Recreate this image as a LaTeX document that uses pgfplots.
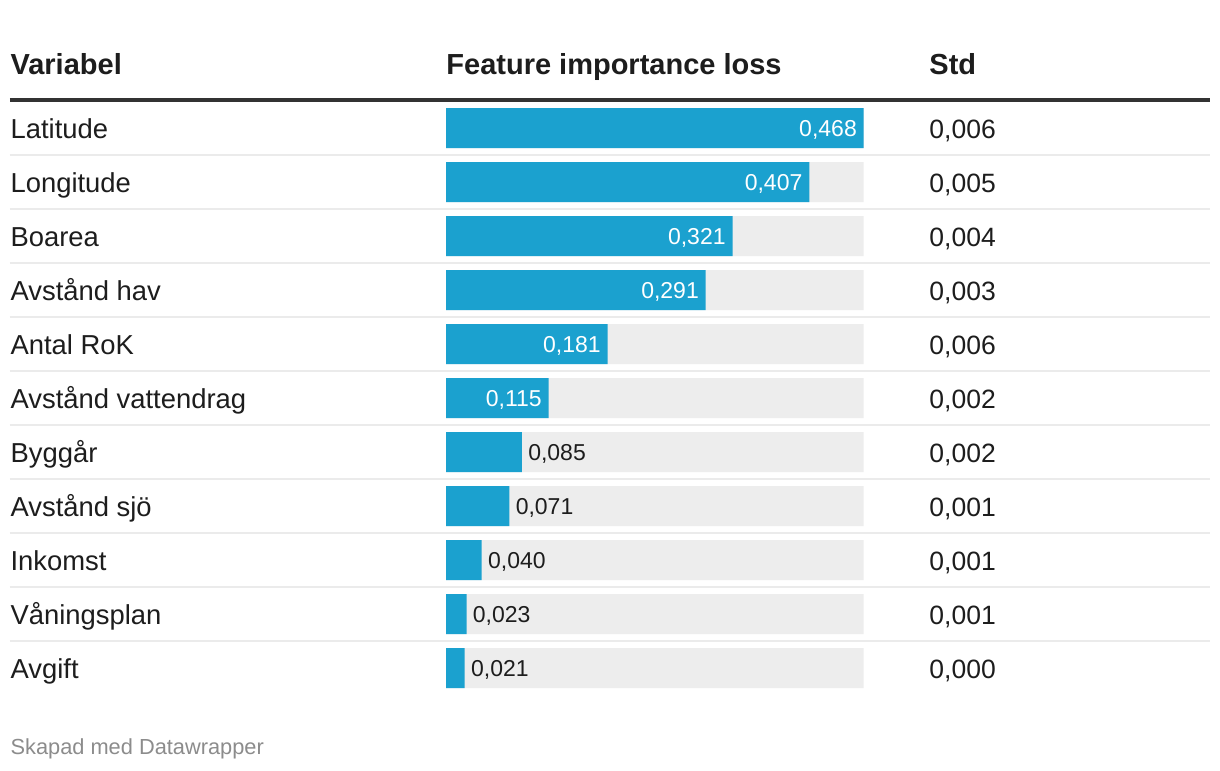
\documentclass[border=0pt]{standalone}
\usepackage{pgfplots}
\pgfplotsset{compat=1.18}
\usepackage{pgfplotstable}
\usepackage{fontspec}
\setmainfont{Liberation Sans}
\definecolor{barblue}{HTML}{1BA1CF}
\definecolor{bargray}{HTML}{EDEDED}
\definecolor{txt}{HTML}{1D1D1D}
\definecolor{rule}{HTML}{333333}
\definecolor{sep}{HTML}{EBEBEB}
\definecolor{foot}{HTML}{8C8C8C}

\pgfplotstableread{
y v
0 0.468
1 0.407
2 0.321
3 0.291
4 0.181
5 0.115
}\insidedata
\pgfplotstableread{
y v
6 0.085
7 0.071
8 0.040
9 0.023
10 0.021
}\outsidedata
\pgfplotstableread{
y v
0 0.468
1 0.468
2 0.468
3 0.468
4 0.468
5 0.468
6 0.468
7 0.468
8 0.468
9 0.468
10 0.468
}\fulldata

\newcommand{\rowfont}{\fontsize{13.7}{16}\selectfont}
\newcommand{\numfont}{\fontsize{13.25}{16}\selectfont}
\newcommand{\headfont}{\fontsize{14.5}{17}\selectfont\bfseries}
\tikzset{lab/.style={anchor=base west, inner sep=0, text=txt, font=\rowfont},
         num/.style={anchor=base west, inner sep=0, text=txt, font=\numfont}}

\begin{document}
\begin{tikzpicture}
\begin{axis}[
  scale only axis, width=610pt, height=385pt,
  xmin=-0.49972, xmax=0.86723,
  ymin=-2.37037, ymax=11.88889, y dir=reverse,
  hide axis, clip=false,
  /pgf/number format/.cd, fixed, fixed zerofill, precision=3, use comma, assume math mode=true,
]
\fill[white] (rel axis cs:0,0) rectangle (rel axis cs:1,1);
% header
\node[anchor=base west, inner sep=0, text=txt, font=\headfont] at (axis cs:-0.4883,-0.994) {Variabel};
\node[anchor=base west, inner sep=0, text=txt, font=\headfont] at (axis cs:0,-0.994) {Feature importance loss};
\node[anchor=base west, inner sep=0, text=txt, font=\headfont] at (axis cs:0.5412,-0.994) {Std};
\draw[rule, line width=1.75pt] (axis cs:-0.48852,-0.5185) -- (axis cs:0.85602,-0.5185);
% separators
\pgfplotsinvokeforeach{0,...,9}{
  \draw[sep, line width=1pt] (axis cs:-0.48852,#1.5) -- (axis cs:0.85602,#1.5);
}
% background bars
\addplot[xbar, bar shift=0pt, bar width=0.7407, fill=bargray, draw=none] table[x=v, y=y] {\fulldata};
% value bars, labels inside
\addplot[xbar, bar shift=0pt, bar width=0.7407, fill=barblue, draw=none,
  point meta=x, nodes near coords,
  nodes near coords style={anchor=base east, inner sep=0, xshift=-3.25pt, yshift=-4pt, text=white, font=\fontsize{11.5}{14}\selectfont}]
  table[x=v, y=y] {\insidedata};
% value bars, labels outside
\addplot[xbar, bar shift=0pt, bar width=0.7407, fill=barblue, draw=none,
  point meta=x, nodes near coords,
  nodes near coords style={anchor=base west, inner sep=0, xshift=3pt, yshift=-4pt, text=txt, font=\fontsize{11.5}{14}\selectfont}]
  table[x=v, y=y] {\outsidedata};
% row labels
\node[lab] at (axis cs:-0.4883,0.19) {Latitude};
\node[lab] at (axis cs:-0.4883,1.19) {Longitude};
\node[lab] at (axis cs:-0.4883,2.19) {Boarea};
\node[lab] at (axis cs:-0.4883,3.19) {Avstånd hav};
\node[lab] at (axis cs:-0.4883,4.19) {Antal RoK};
\node[lab] at (axis cs:-0.4883,5.19) {Avstånd vattendrag};
\node[lab] at (axis cs:-0.4883,6.19) {Byggår};
\node[lab] at (axis cs:-0.4883,7.19) {Avstånd sjö};
\node[lab] at (axis cs:-0.4883,8.19) {Inkomst};
\node[lab] at (axis cs:-0.4883,9.19) {Våningsplan};
\node[lab] at (axis cs:-0.4883,10.19) {Avgift};
% std column
\node[num] at (axis cs:0.5412,0.19) {0,006};
\node[num] at (axis cs:0.5412,1.19) {0,005};
\node[num] at (axis cs:0.5412,2.19) {0,004};
\node[num] at (axis cs:0.5412,3.19) {0,003};
\node[num] at (axis cs:0.5412,4.19) {0,006};
\node[num] at (axis cs:0.5412,5.19) {0,002};
\node[num] at (axis cs:0.5412,6.19) {0,002};
\node[num] at (axis cs:0.5412,7.19) {0,001};
\node[num] at (axis cs:0.5412,8.19) {0,001};
\node[num] at (axis cs:0.5412,9.19) {0,001};
\node[num] at (axis cs:0.5412,10.19) {0,000};
% footer
\node[anchor=base west, inner sep=0, text=foot, font=\fontsize{10.9}{13}\selectfont] at (axis cs:-0.4883,11.598) {Skapad med Datawrapper};
\end{axis}
\end{tikzpicture}
\end{document}
